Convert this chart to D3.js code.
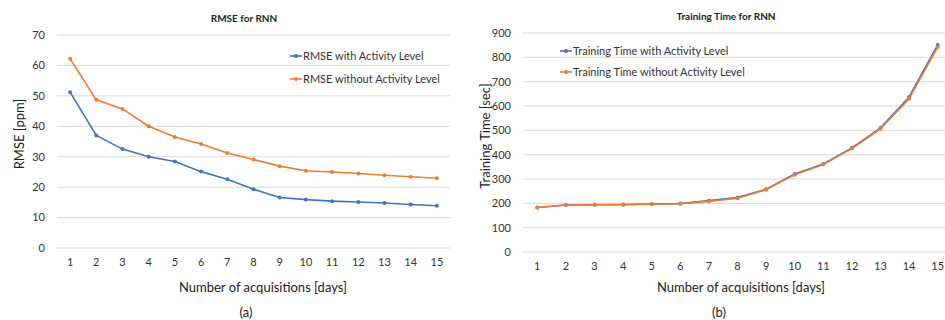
<!DOCTYPE html>
<html><head><meta charset="utf-8">
<script src="https://cdn.jsdelivr.net/npm/d3@7"></script>
<style>body{margin:0;background:#fff}svg{display:block;font-family:Lato,"Open Sans",sans-serif}</style>
</head><body><svg id="c" width="945" height="320"></svg>
<script>
const days = [1,2,3,4,5,6,7,8,9,10,11,12,13,14,15];
const rmseWith = [51.2,37.0,32.5,30.0,28.4,25.1,22.6,19.3,16.6,15.9,15.4,15.1,14.8,14.3,13.9];
const rmseWithout = [62.2,48.7,45.7,40.0,36.5,34.2,31.2,29.1,26.9,25.4,25.0,24.5,23.9,23.4,22.9];
const timeWith = [183,193,194,195,197,199,211,224,258,321,362,428,510,637,851];
const timeWithout = [183,193,194,194,196,198,208,221,256,317,360,425,506,630,842];
const rmseTicks = [0,10,20,30,40,50,60,70];
const timeTicks = [0,100,200,300,400,500,600,700,800,900];
const seriesNamesA = ["RMSE with Activity Level","RMSE without Activity Level"];
const seriesNamesB = ["Training Time with Activity Level","Training Time without Activity Level"];
const colors = ["#4472C4","#ED7D31"];

const svg = d3.select("#c");

function panel(o){
  const g = svg.append("g");
  const x = d3.scaleBand().domain(days).range([o.x0,o.x1]);
  const y = d3.scaleLinear().domain([0,d3.max(o.ticks)]).range([o.y0,o.y1]);
  g.selectAll(".grid").data(o.ticks).join("line")
    .attr("x1",o.x0).attr("x2",o.gridEnd).attr("y1",d=>y(d)).attr("y2",d=>y(d))
    .attr("stroke","#d9d9d9").attr("stroke-width",1);
  g.selectAll(".yl").data(o.ticks).join("text")
    .attr("x",o.x0-12).attr("y",d=>y(d)).attr("dy","0.35em").attr("text-anchor","end")
    .attr("font-size",11).attr("fill","#333").text(d=>d);
  g.selectAll(".xl").data(days).join("text")
    .attr("x",d=>x(d)+x.bandwidth()/2).attr("y",o.y0+14).attr("dy","0.35em").attr("text-anchor","middle")
    .attr("font-size",11).attr("fill","#333").text(d=>d);
  o.series.forEach((s,i)=>{
    const line = d3.line().x((d,j)=>x(days[j])+x.bandwidth()/2).y(d=>y(d));
    g.append("path").datum(s).attr("d",line).attr("fill","none").attr("stroke",colors[i]).attr("stroke-width",1.6);
    g.selectAll(".m"+i).data(s).join("circle")
      .attr("cx",(d,j)=>x(days[j])+x.bandwidth()/2).attr("cy",d=>y(d)).attr("r",2).attr("fill",colors[i]);
  });
  o.names.forEach((n,i)=>{
    const ly = o.legY + i*o.legGap;
    g.append("line").attr("x1",o.legX).attr("x2",o.legX+12).attr("y1",ly).attr("y2",ly).attr("stroke",colors[i]).attr("stroke-width",1.6);
    g.append("circle").attr("cx",o.legX+6).attr("cy",ly).attr("r",2).attr("fill",colors[i]);
    g.append("text").attr("x",o.legX+13).attr("y",ly).attr("dy","0.35em").attr("font-size",11).attr("fill","#333").text(n);
  });
  g.append("text").attr("x",o.titleX).attr("y",o.titleY).attr("text-anchor","middle").attr("font-size",10).attr("font-weight","bold").attr("fill","#222").text(o.title);
  g.append("text").attr("x",o.xtX).attr("y",287).attr("dy","0.35em").attr("text-anchor","middle").attr("font-size",13).attr("fill","#222").text("Number of acquisitions [days]");
  g.append("text").attr("transform",`translate(${o.ytX},${o.ytY}) rotate(-90)`).attr("dy","0.35em").attr("text-anchor","middle").attr("font-size",13).attr("fill","#222").text(o.ytitle);
  g.append("text").attr("x",o.capX).attr("y",312).attr("dy","0.35em").attr("text-anchor","middle").attr("font-size",13).attr("fill","#222").text(o.cap);
}

panel({x0:57,x1:450,gridEnd:450,y0:248,y1:35,ticks:rmseTicks,series:[rmseWith,rmseWithout],names:seriesNamesA,
  legX:290,legY:56,legGap:23,title:"RMSE for RNN",titleX:244,titleY:22,xtX:263,ytX:19,ytY:134,ytitle:"RMSE [ppm]",capX:246,cap:"(a)"});
panel({x0:523,x1:952,gridEnd:945,y0:252,y1:33,ticks:timeTicks,series:[timeWith,timeWithout],names:seriesNamesB,
  legX:560,legY:51,legGap:21,title:"Training Time for RNN",titleX:726,titleY:20,xtX:741,ytX:485,ytY:136,ytitle:"Training Time [sec]",capX:719,cap:"(b)"});
</script></body></html>
